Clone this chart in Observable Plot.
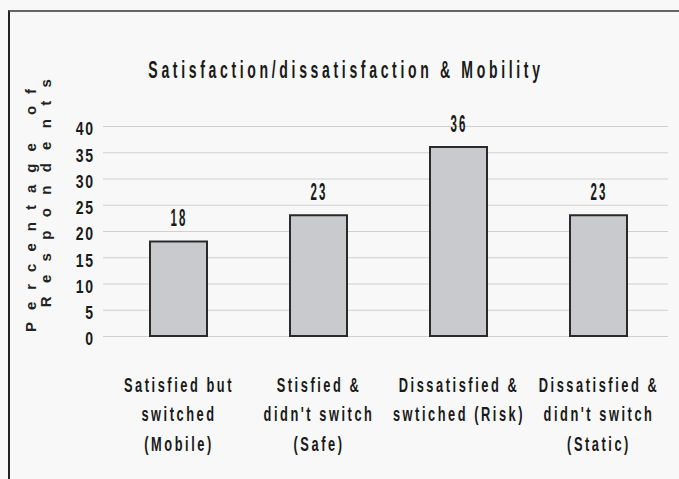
<!DOCTYPE html>
<html>
<head>
<meta charset="utf-8">
<script src="https://cdn.jsdelivr.net/npm/d3@7"></script>
<script src="https://cdn.jsdelivr.net/npm/@observablehq/plot@0.6"></script>
<style>
  html, body { margin: 0; padding: 0; background: #f8f8f8; }
  #wrap { position: relative; width: 679px; height: 479px; overflow: hidden; }
  #frame { position: absolute; left: 8px; top: 10px; width: 690px; height: 490px;
           border-left: 2px solid #222; border-top: 2px solid #666; box-sizing: border-box; }
  #chart { position: absolute; left: 0; top: 0; }
</style>
</head>
<body>
<div id="wrap"><div id="frame"></div><div id="chart"></div></div>
<script>
const categories = [
  "Satisfied but\nswitched\n(Mobile)",
  "Stisfied &\ndidn't switch\n(Safe)",
  "Dissatisfied &\nswtiched (Risk)",
  "Dissatisfied &\ndidn't switch\n(Static)"
];
const values = [18, 23, 36, 23];
const yTicks = [0, 5, 10, 15, 20, 25, 30, 35, 40];
const title = "Satisfaction/dissatisfaction & Mobility";
const yLabelLines = ["Percentage of", "Respondents"];

const data = categories.map((c, i) => ({category: c, value: values[i]}));
const font = "'Liberation Sans', Arial, sans-serif";

const chart = Plot.plot({
  width: 679,
  height: 479,
  marginLeft: 108,
  marginRight: 10,
  marginTop: 126,
  marginBottom: 143,
  style: {background: "transparent", fontFamily: font},
  x: {domain: categories, paddingInner: 0.59, paddingOuter: 0.295, axis: null},
  y: {domain: [0, 40], axis: null},
  marks: [
    Plot.ruleY(yTicks, {stroke: "#d0d0d0", strokeWidth: 1.2, insetLeft: -5, insetRight: 1}),
    Plot.barY(data, {x: "category", y: "value", fill: "#c9cacd", stroke: "#2a2a2a", strokeWidth: 2}),
    Plot.text(data, {x: "category", y: "value", text: d => String(d.value), dy: -23,
      fontSize: 23, fontWeight: "bold", fill: "#1a1a1a"}),
    Plot.text(yTicks, {y: d => d, text: d => String(d), frameAnchor: "left", dx: -14, dy: 3,
      textAnchor: "end", fontSize: 18, fontWeight: "bold", fill: "#1a1a1a"}),
    Plot.text(categories, {x: d => d, text: d => d, frameAnchor: "bottom", lineAnchor: "top",
      dy: 34, lineHeight: 1.48, fontSize: 20, fontWeight: "bold", fill: "#1a1a1a"}),
    Plot.text([title], {text: d => d, frameAnchor: "top", lineAnchor: "top", dy: -65, dx: -43,
      fontSize: 23, fontWeight: "bold", fill: "#1a1a1a"}),
    Plot.text([yLabelLines[0]], {text: d => d, frameAnchor: "left", textAnchor: "middle",
      dx: -77, dy: -27, rotate: -90, fontSize: 15, fontWeight: "bold", fill: "#222"}),
    Plot.text([yLabelLines[1]], {text: d => d, frameAnchor: "left", textAnchor: "middle",
      dx: -62, dy: -45, rotate: -90, fontSize: 15, fontWeight: "bold", fill: "#222"})
  ]
});

// condensed, letter-spaced lettering like the original (per text mark, in mark order)
const textStyles = [
  {scale: 0.5, spacing: 4},    // value labels
  {scale: 0.78, spacing: 2},   // y tick labels
  {scale: 0.64, spacing: 4},   // x category labels
  {scale: 0.61, spacing: 6},   // title
  {scale: 1, spacing: 12},     // y label line 1
  {scale: 1, spacing: 13.3}    // y label line 2
];
const groups = chart.querySelectorAll('g[aria-label="text"]');
groups.forEach((g, gi) => {
  const st = textStyles[gi];
  if (!st) return;
  g.querySelectorAll("text").forEach(t => {
    t.style.letterSpacing = st.spacing + "px";
    if (st.scale !== 1) {
      const tr = t.getAttribute("transform") || "";
      t.setAttribute("transform", (tr + ` scale(${st.scale},1)`).trim());
    }
  });
});
document.getElementById("chart").appendChild(chart);
</script>
</body>
</html>
